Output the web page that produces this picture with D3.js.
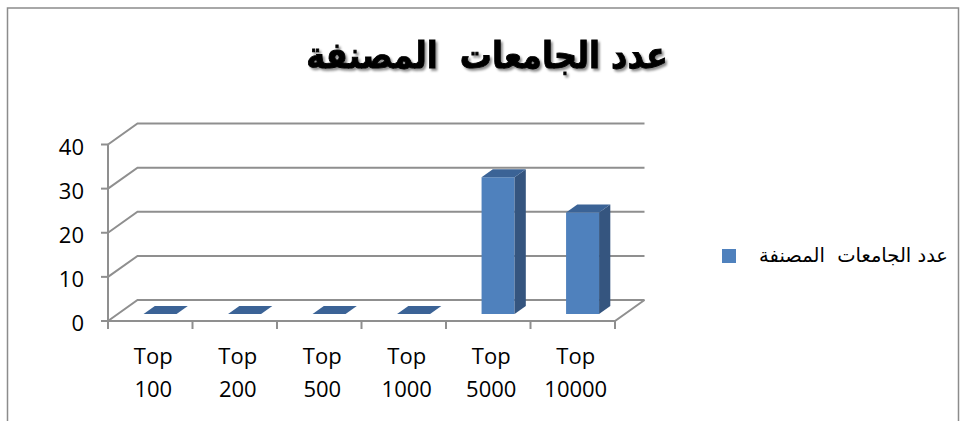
<!DOCTYPE html>
<html lang="ar">
<head>
<meta charset="UTF-8">
<title>عدد الجامعات المصنفة</title>
<script src="https://cdn.jsdelivr.net/npm/d3@7"></script>
<style>
  body { margin: 0; background: #fff; }
  svg { display: block; }
  .pre { white-space: pre; }
</style>
</head>
<body>
<div id="vis"></div>
<script>
// data
var categories = ["Top 100", "Top 200", "Top 500", "Top 1000", "Top 5000", "Top 10000"];
var values = [0, 0, 0, 0, 31, 23];
var yTicks = [0, 10, 20, 30, 40];
var seriesName = "عدد الجامعات  المصنفة";
var titleText = "عدد الجامعات  المصنفة";

var width = 966, height = 421;

var svg = d3.select("#vis").append("svg")
    .attr("width", width)
    .attr("height", height);

// soft shadow for the title
var shadow = svg.append("defs").append("filter")
    .attr("id", "shadow")
    .attr("x", "-10%").attr("y", "-20%")
    .attr("width", "120%").attr("height", "150%");
shadow.append("feDropShadow")
    .attr("dx", 2).attr("dy", 2)
    .attr("stdDeviation", 0.8)
    .attr("flood-color", "#000")
    .attr("flood-opacity", 0.45);

// outer chart border (bottom is cut off)
svg.append("path")
    .attr("d", "M7.5,421 V8 H958.5 V421")
    .attr("fill", "none")
    .attr("stroke", "#8c8c8c")
    .attr("stroke-width", 1.5);

// front plane scales
var x = d3.scaleBand().domain(categories).range([108, 615]);
var y = d3.scaleLinear().domain([0, 40]).range([321, 144.5]);

// depth offset of the back wall
var depthX = 29.5, depthY = -21;

function proj(px, v, z) {
    return [px + z * depthX, y(v) + z * depthY];
}

var grid = svg.append("g")
    .attr("fill", "none")
    .attr("stroke", "#8f8f8f")
    .attr("stroke-width", 2);

// gridlines: left wall diagonal + back wall horizontal
yTicks.forEach(function(t) {
    var a = proj(108, t, 0), b = proj(108, t, 1), c = proj(615, t, 1);
    grid.append("path")
        .attr("d", "M" + a + "L" + b + "L" + c);
});

// floor front edge and right edge
var f0 = proj(108, 0, 0), f1 = proj(615, 0, 0), f2 = proj(615, 0, 1);
grid.append("path").attr("d", "M" + f0 + "L" + f1 + "L" + f2);

// y axis line + ticks
grid.append("line")
    .attr("x1", 108).attr("x2", 108)
    .attr("y1", y(40)).attr("y2", y(0) + 8);
yTicks.forEach(function(t) {
    grid.append("line")
        .attr("x1", 101).attr("x2", 108)
        .attr("y1", y(t)).attr("y2", y(t));
});

// x ticks at category boundaries
var bounds = categories.map(function(c) { return x(c); }).concat([615]);
bounds.forEach(function(bx) {
    grid.append("line")
        .attr("x1", bx).attr("x2", bx)
        .attr("y1", y(0)).attr("y2", y(0) + 8);
});

// y labels
svg.append("g").selectAll("text")
    .data(yTicks)
    .enter().append("text")
    .attr("x", 84)
    .attr("y", function(d) { return y(d) + 10; })
    .attr("text-anchor", "end")
    .attr("font-family", "'Open Sans', 'Liberation Sans', sans-serif")
    .attr("font-size", 22)
    .attr("fill", "#000")
    .text(function(d) { return d; });

// x labels (two rows)
var xl = svg.append("g").selectAll("text")
    .data(categories)
    .enter().append("text")
    .attr("text-anchor", "middle")
    .attr("font-family", "'Open Sans', 'Liberation Sans', sans-serif")
    .attr("font-size", 22)
    .attr("fill", "#000");
xl.append("tspan")
    .attr("x", function(d) { return x(d) + x.bandwidth() / 2 + 3; })
    .attr("y", 364)
    .text(function(d) { return d.split(" ")[0]; });
xl.append("tspan")
    .attr("x", function(d) { return x(d) + x.bandwidth() / 2 + 3; })
    .attr("y", 396.5)
    .text(function(d) { return d.split(" ")[1]; });

// 3d bars
var z1 = 0.333, z2 = 0.714, halfW = 16.5;
var bars = svg.append("g");
categories.forEach(function(c, i) {
    var v = values[i];
    var cx = x(c) + x.bandwidth() / 2;
    var l = cx - halfW, r = cx + halfW;
    var fl0 = proj(l, 0, z1), fr0 = proj(r, 0, z1);
    var flv = proj(l, v, z1), frv = proj(r, v, z1);
    var blv = proj(l, v, z2), brv = proj(r, v, z2), br0 = proj(r, 0, z2);
    if (v > 0) {
        // front face
        bars.append("path")
            .attr("d", "M" + fl0 + "L" + fr0 + "L" + frv + "L" + flv + "Z")
            .attr("fill", "#4f81bd");
        // side face
        bars.append("path")
            .attr("d", "M" + fr0 + "L" + br0 + "L" + brv + "L" + frv + "Z")
            .attr("fill", "#35557f");
    }
    // top face
    bars.append("path")
        .attr("d", "M" + flv + "L" + frv + "L" + brv + "L" + blv + "Z")
        .attr("fill", "#3b6396");
});

// title (a bit heavier and taller like the original font)
svg.append("text")
    .attr("class", "pre")
    .attr("transform", "translate(487,68) scale(1,1.15)")
    .attr("text-anchor", "middle")
    .attr("direction", "rtl")
    .attr("font-family", "'DejaVu Sans', sans-serif")
    .attr("font-weight", "bold")
    .attr("font-size", 32)
    .attr("fill", "#000")
    .attr("stroke", "#000")
    .attr("stroke-width", 0.8)
    .attr("filter", "url(#shadow)")
    .text(titleText);

// legend
svg.append("rect")
    .attr("x", 722).attr("y", 249)
    .attr("width", 14).attr("height", 14)
    .attr("fill", "#4f81bd");
svg.append("text")
    .attr("class", "pre")
    .attr("x", 948).attr("y", 262)
    .attr("text-anchor", "start")
    .attr("direction", "rtl")
    .attr("font-family", "'DejaVu Sans', sans-serif")
    .attr("font-size", 19.5)
    .attr("fill", "#000")
    .text(seriesName);
</script>
</body>
</html>
